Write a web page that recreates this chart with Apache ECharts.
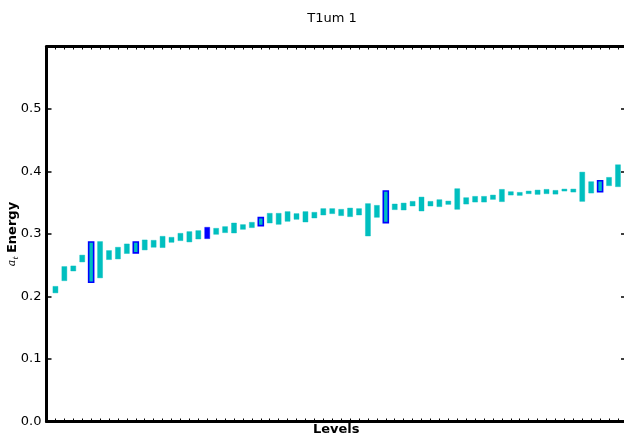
<!DOCTYPE html>
<html>
<head>
<meta charset="utf-8">
<script src="https://cdn.jsdelivr.net/npm/echarts@6/dist/echarts.min.js"></script>
<style>html,body{margin:0;padding:0;background:#fff;}#c{width:624px;height:434px;}</style>
</head>
<body>
<div id="c"></div>
<script>
var title = "T1um 1";
var xName = "Levels";
var yTicks = [0.0, 0.1, 0.2, 0.3, 0.4, 0.5];
// level number (1..64)
var levels = [];
for (var n = 1; n <= 64; n++) levels.push(n);
var lows = [0.205,0.2245,0.240,0.2545,0.222,0.229,0.2583,0.2593,0.268,0.269,
  0.2737,0.2780,0.2775,0.2859,0.2886,0.2865,0.2912,0.2918,0.2987,0.3014,
  0.3008,0.3067,0.3094,0.3126,0.3168,0.3147,0.3195,0.3227,0.3184,0.3248,
  0.3296,0.3318,0.3286,0.3270,0.3296,0.2960,0.3259,0.3174,0.3382,0.3376,
  0.3440,0.3360,0.3440,0.3430,0.3466,0.3387,0.3471,0.3503,0.3503,0.3546,
  0.3510,0.3615,0.3610,0.3637,0.3626,0.3637,0.3630,0.3679,0.3663,0.3514,
  0.3647,0.3669,0.3765,0.3749];
var highs = [0.217,0.2487,0.2497,0.267,0.288,0.2887,0.2743,0.2796,0.2849,0.288,
  0.2913,0.2907,0.2971,0.2955,0.3019,0.3046,0.3062,0.3115,0.3099,0.3126,
  0.3184,0.3158,0.3195,0.327,0.3339,0.3339,0.3366,0.3334,0.3366,0.3355,
  0.3414,0.3414,0.3403,0.3423,0.3414,0.3494,0.3466,0.3695,0.3488,0.3503,
  0.3530,0.3599,0.3530,0.3557,0.3535,0.3733,0.3589,0.3610,0.3610,0.3631,
  0.3722,0.3685,0.3674,0.3695,0.3711,0.3722,0.3706,0.3727,0.3727,0.3998,
  0.3845,0.3861,0.3914,0.4116];
// 0 = plain, 1 = blue outline, 2 = blue filled
var marks = [0,0,0,0,1,0,0,0,0,1, 0,0,0,0,0,0,0,2,0,0, 0,0,0,1,0,0,0,0,0,0,
  0,0,0,0,0,0,0,1,0,0, 0,0,0,0,0,0,0,0,0,0, 0,0,0,0,0,0,0,0,0,0, 0,1,0,0];

var data = levels.map(function (l, i) { return [l, lows[i], highs[i], marks[i]]; });

var chart = echarts.init(document.getElementById('c'), null, {renderer: 'canvas'});
var font = 'DejaVu Sans';
var xBase = {
  type: 'value', min: 0, max: 64.9, interval: 1,
  axisLine: {show: true, onZero: false, lineStyle: {color: '#000', width: 3}},
  axisTick: {show: true, inside: true, length: 3, lineStyle: {color: '#000', width: 1}},
  axisLabel: {show: false}, splitLine: {show: false}
};
chart.setOption({
  animation: false,
  backgroundColor: '#fff',
  title: {
    text: title, left: 327, top: 7, textAlign: 'center',
    textStyle: {fontFamily: font, fontSize: 13, fontWeight: 'normal', color: '#000'}
  },
  grid: {left: 46.5, right: -2, top: 46.5, bottom: 12.5, containLabel: false, outerBoundsMode: 'none'},
  xAxis: [
    Object.assign({}, xBase, {
      position: 'bottom',
      name: xName, nameLocation: 'middle', nameGap: 2, nameMoveOverlap: false,
      nameTextStyle: {fontFamily: font, fontSize: 13, fontWeight: 'bold', color: '#000', verticalAlign: 'top'}
    }),
    Object.assign({}, xBase, {position: 'top'})
  ],
  yAxis: [
    {
      type: 'value', min: 0, max: 0.6, interval: 0.1, position: 'left',
      name: '{a|a}{t|t} {b|Energy}', nameLocation: 'middle', nameGap: 27, nameRotate: 90,
      nameMoveOverlap: false,
      nameTextStyle: {
        color: '#000',
        rich: {
          a: {fontFamily: 'DejaVu Serif', fontStyle: 'italic', fontSize: 11, color: '#000'},
          t: {fontFamily: 'DejaVu Serif', fontStyle: 'italic', fontSize: 8, color: '#000', padding: [6, 0, 0, 0]},
          b: {fontFamily: font, fontSize: 13, fontWeight: 'bold', color: '#000'}
        }
      },
      axisLine: {show: true, onZero: false, lineStyle: {color: '#000', width: 3}},
      axisTick: {show: true, inside: true, length: 5, lineStyle: {color: '#000', width: 1.5}},
      axisLabel: {
        show: true, margin: 5, fontFamily: font, fontSize: 13, color: '#000',
        showMaxLabel: false,
        formatter: function (v) { return v.toFixed(1); }
      },
      splitLine: {show: false}
    },
    {
      type: 'value', min: 0, max: 0.6, interval: 0.1, position: 'right',
      axisLine: {show: true, onZero: false, lineStyle: {color: '#000', width: 3}},
      axisTick: {show: true, inside: true, length: 5, lineStyle: {color: '#000', width: 1.5}},
      axisLabel: {show: false}, splitLine: {show: false}
    }
  ],
  series: [{
    type: 'custom',
    xAxisIndex: 0, yAxisIndex: 0,
    data: data,
    encode: {x: 0, y: [1, 2]},
    clip: false,
    renderItem: function (params, api) {
      var i = api.value(0), lo = api.value(1), hi = api.value(2), k = api.value(3);
      var top = api.coord([i, hi]);
      var bot = api.coord([i, lo]);
      var w = 5;
      var shape = {x: top[0] - w / 2, y: top[1] + 0.5, width: w, height: Math.max(bot[1] - top[1] - 1, 1)};
      var style;
      if (k === 1) {
        style = {fill: '#00BFBF', stroke: '#0000FF', lineWidth: 1.6};
      } else if (k === 2) {
        style = {fill: '#0000FF', stroke: 'rgba(0,0,255,0.45)', lineWidth: 1};
      } else {
        style = {fill: '#00BFBF', stroke: 'rgba(0,191,191,0.4)', lineWidth: 1};
      }
      return {type: 'rect', shape: shape, style: style};
    }
  }]
});
</script>
</body>
</html>
